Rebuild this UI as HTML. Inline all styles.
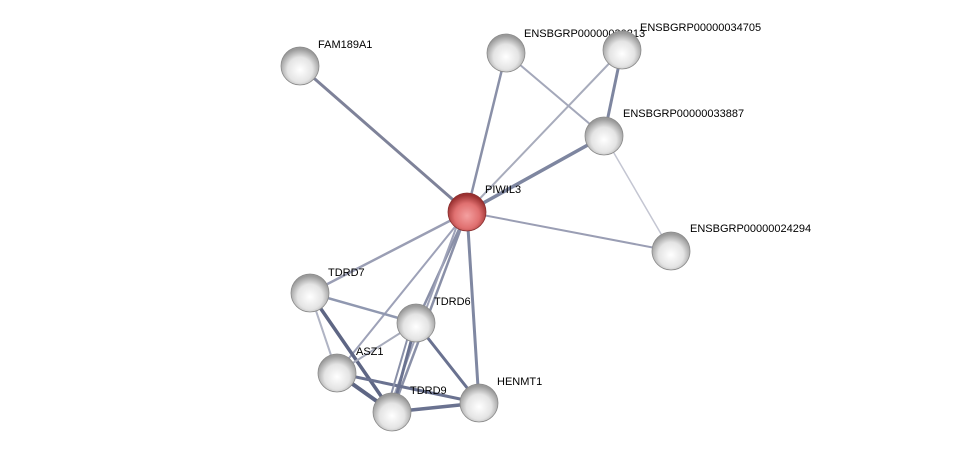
<!DOCTYPE html>
<html><head><style>html,body{margin:0;padding:0;background:#fff;}svg{display:block}</style></head><body>
<svg width="976" height="458" viewBox="0 0 976 458" xmlns="http://www.w3.org/2000/svg" font-family="Liberation Sans, sans-serif" font-size="11">
<defs>
<radialGradient id="g" cx="50%" cy="60%" r="55%"><stop offset="0" stop-color="#ffffff"/><stop offset="0.6" stop-color="#e4e4e4"/><stop offset="1" stop-color="#9a9a9a"/></radialGradient>
<radialGradient id="r" cx="50%" cy="60%" r="55%"><stop offset="0" stop-color="#f4a0a0"/><stop offset="0.6" stop-color="#e07070"/><stop offset="1" stop-color="#9a3030"/></radialGradient>
<linearGradient id="h" x1="0" y1="0" x2="0" y2="1"><stop offset="0" stop-color="#fff" stop-opacity="0.9"/><stop offset="1" stop-color="#fff" stop-opacity="0"/></linearGradient>
</defs>
<g stroke-linecap="round">
<line x1="467" y1="212" x2="300" y2="66" stroke="#7e8299" stroke-width="3"/>
<line x1="467" y1="212" x2="506" y2="53" stroke="#8a90a8" stroke-width="2.5"/>
<line x1="467" y1="212" x2="622" y2="50" stroke="#a8acbc" stroke-width="2"/>
<line x1="467" y1="212" x2="604" y2="136" stroke="#7e86a0" stroke-width="3.5"/>
<line x1="467" y1="212" x2="671" y2="251" stroke="#9a9eb4" stroke-width="2"/>
<line x1="506" y1="53" x2="604" y2="136" stroke="#a4a8ba" stroke-width="2"/>
<line x1="622" y1="50" x2="604" y2="136" stroke="#7e86a0" stroke-width="3"/>
<line x1="604" y1="136" x2="671" y2="251" stroke="#c4c6d2" stroke-width="1.5"/>
<line x1="467" y1="212" x2="310" y2="293" stroke="#9a9eb4" stroke-width="2.5"/>
<line x1="467" y1="212" x2="416" y2="323" stroke="#8a90a8" stroke-width="2.5"/>
<line x1="467" y1="212" x2="337" y2="373" stroke="#9ea2b8" stroke-width="2"/>
<line x1="467" y1="212" x2="392" y2="412" stroke="#8a90a8" stroke-width="2.5"/>
<line x1="462" y1="212" x2="388" y2="412" stroke="#9ea2b8" stroke-width="2"/>
<line x1="467" y1="212" x2="479" y2="403" stroke="#8088a2" stroke-width="3"/>
<line x1="310" y1="293" x2="416" y2="323" stroke="#9098b0" stroke-width="2.5"/>
<line x1="310" y1="293" x2="337" y2="373" stroke="#b0b4c4" stroke-width="2"/>
<line x1="310" y1="293" x2="392" y2="412" stroke="#5e6684" stroke-width="3.5"/>
<line x1="337" y1="373" x2="416" y2="323" stroke="#a8acbc" stroke-width="2"/>
<line x1="337" y1="373" x2="392" y2="412" stroke="#5e6684" stroke-width="4"/>
<line x1="337" y1="373" x2="479" y2="403" stroke="#6a7290" stroke-width="3"/>
<line x1="416" y1="323" x2="392" y2="412" stroke="#6a7290" stroke-width="3"/>
<line x1="412" y1="323" x2="386" y2="412" stroke="#8a90a8" stroke-width="2"/>
<line x1="416" y1="323" x2="479" y2="403" stroke="#6a7290" stroke-width="3"/>
<line x1="392" y1="412" x2="479" y2="403" stroke="#6a7290" stroke-width="3.5"/>
</g>
<g>
<circle cx="300" cy="66" r="19" fill="url(#g)" stroke="#8a8a8a" stroke-width="0.8"/>
<circle cx="506" cy="53" r="19" fill="url(#g)" stroke="#8a8a8a" stroke-width="0.8"/>
<circle cx="604" cy="136" r="19" fill="url(#g)" stroke="#8a8a8a" stroke-width="0.8"/>
<circle cx="671" cy="251" r="19" fill="url(#g)" stroke="#8a8a8a" stroke-width="0.8"/>
<circle cx="467" cy="212" r="19" fill="url(#r)" stroke="#8a3030" stroke-width="0.8"/>
<circle cx="310" cy="293" r="19" fill="url(#g)" stroke="#8a8a8a" stroke-width="0.8"/>
<circle cx="337" cy="373" r="19" fill="url(#g)" stroke="#8a8a8a" stroke-width="0.8"/>
<circle cx="416" cy="323" r="19" fill="url(#g)" stroke="#8a8a8a" stroke-width="0.8"/>
<circle cx="392" cy="412" r="19" fill="url(#g)" stroke="#8a8a8a" stroke-width="0.8"/>
<circle cx="479" cy="403" r="19" fill="url(#g)" stroke="#8a8a8a" stroke-width="0.8"/>
</g>
<g fill="#000">
<text x="318" y="48">FAM189A1</text>
<text x="524" y="37">ENSBGRP00000030213</text>
<circle cx="622" cy="50" r="19" fill="url(#g)" stroke="#8a8a8a" stroke-width="0.8"/>
<text x="640" y="31">ENSBGRP00000034705</text>
<text x="623" y="117">ENSBGRP00000033887</text>
<text x="485" y="193">PIWIL3</text>
<text x="690" y="232">ENSBGRP00000024294</text>
<text x="328" y="276">TDRD7</text>
<text x="434" y="305">TDRD6</text>
<text x="356" y="355">ASZ1</text>
<text x="410" y="394">TDRD9</text>
<text x="497" y="385">HENMT1</text>
</g>
</svg>
</body></html>
